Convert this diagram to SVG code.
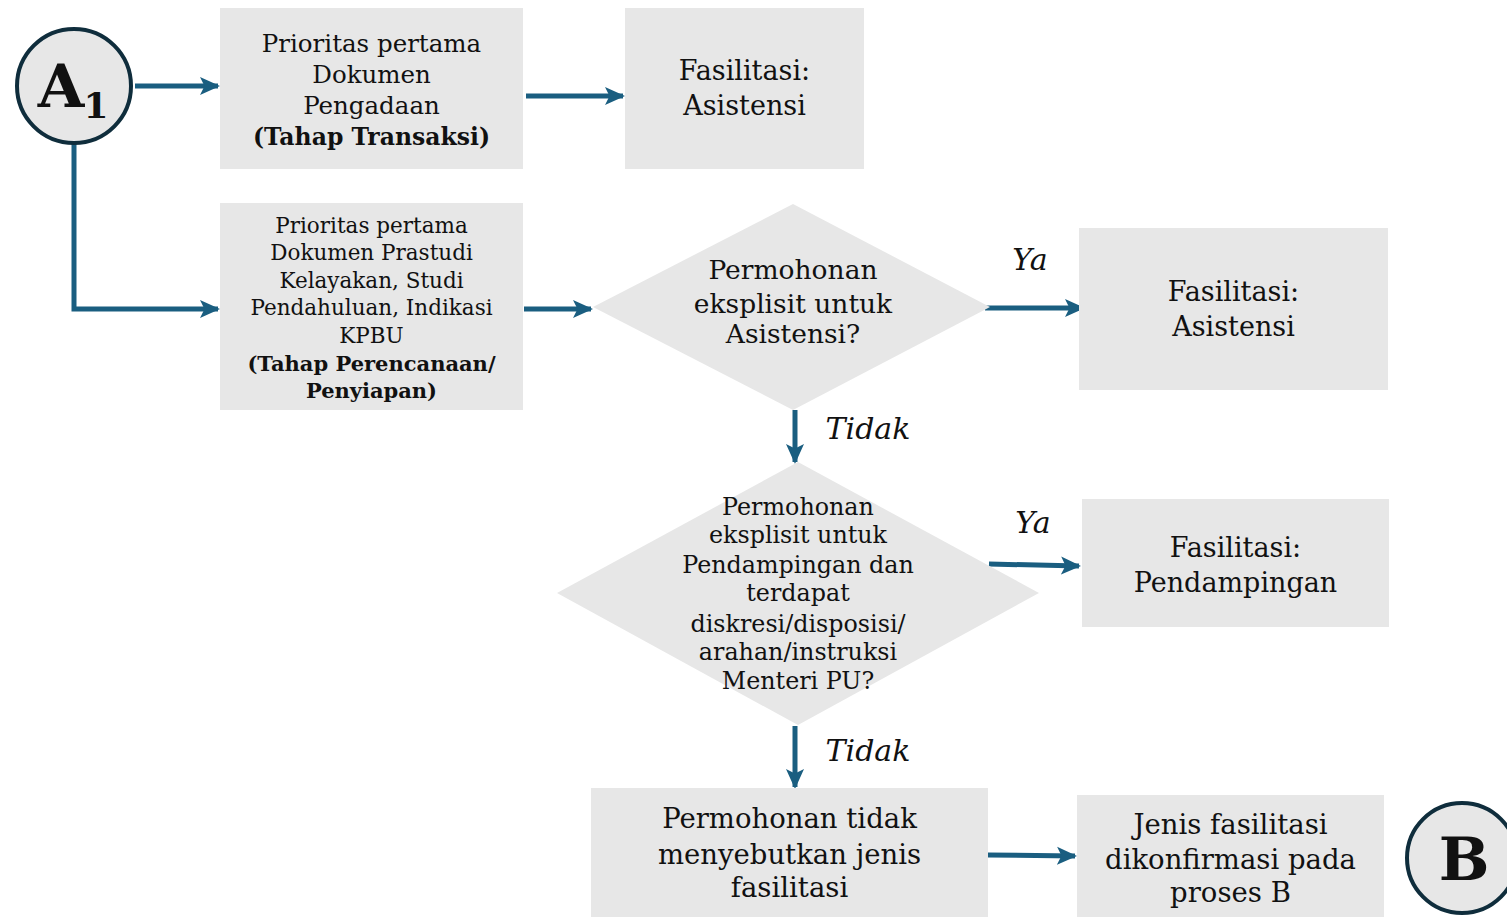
<svg xmlns="http://www.w3.org/2000/svg" width="1507" height="917" viewBox="0 0 1507 917">
<style>
.box{fill:#e7e7e7}
.t{font-family:"DejaVu Serif","Liberation Serif",serif;fill:#111;text-anchor:middle}
.b{font-weight:bold}
.i{font-style:italic}
.c{fill:#e7e7e7;stroke:#0f2d3c;stroke-width:4}
.e{stroke:#1a5e80;stroke-width:5;fill:none;marker-end:url(#ah)}
</style>
<defs>
<marker id="ah" markerWidth="4" markerHeight="4" refX="3.6" refY="2" orient="auto" markerUnits="strokeWidth" viewBox="0 0 4 4">
<path d="M0,0.2 L4,2 L0,3.8 L0.9,2 Z" fill="#1a5e80"/>
</marker>
</defs>
<rect width="1507" height="917" fill="#fff"/>
<g id="connectors">
<line class="e" x1="135" y1="86" x2="218" y2="86"/>
<polyline class="e" points="74,143 74,309 218,309"/>
<line class="e" x1="526" y1="96" x2="623" y2="96"/>
<line class="e" x1="524" y1="309" x2="591" y2="309"/>
<line class="e" x1="985" y1="308" x2="1083" y2="308"/>
<line class="e" x1="795" y1="410" x2="795" y2="462"/>
<line class="e" x1="989" y1="564" x2="1079" y2="566"/>
<line class="e" x1="795" y1="726" x2="795" y2="787"/>
<line class="e" x1="988" y1="855" x2="1075" y2="856"/>
</g>
<g id="A1">
<circle class="c" cx="74" cy="86" r="57"/>
<text class="t b" x="61" y="107" font-size="60">A</text>
<text class="t b" x="96" y="118" font-size="36">1</text>
</g>
<g id="n1">
<rect class="box" x="220" y="8" width="303" height="161"/>
<text class="t" font-size="24.5" x="371.5" y="52">Prioritas pertama</text>
<text class="t" font-size="24.5" x="371.5" y="83">Dokumen</text>
<text class="t" font-size="24.5" x="371.5" y="114">Pengadaan</text>
<text class="t b" font-size="23.5" x="371.5" y="145">(Tahap Transaksi)</text>
</g>
<g id="n2">
<rect class="box" x="625" y="8" width="239" height="161"/>
<text class="t" font-size="27" x="744.5" y="80">Fasilitasi:</text>
<text class="t" font-size="27" x="744.5" y="115">Asistensi</text>
</g>
<g id="n3">
<rect class="box" x="220" y="203" width="303" height="207"/>
<text class="t" font-size="21.5" x="371.5" y="233">Prioritas pertama</text>
<text class="t" font-size="21.5" x="371.5" y="260">Dokumen Prastudi</text>
<text class="t" font-size="21.5" x="371.5" y="288">Kelayakan, Studi</text>
<text class="t" font-size="21.5" x="371.5" y="315">Pendahuluan, Indikasi</text>
<text class="t" font-size="21.5" x="371.5" y="343">KPBU</text>
<text class="t b" font-size="21" x="371.5" y="371">(Tahap Perencanaan/</text>
<text class="t b" font-size="21" x="371.5" y="398">Penyiapan)</text>
</g>
<g id="d1">
<polygon class="box" points="793,204 990,307 793,410 593,307"/>
<text class="t" font-size="26.5" x="793" y="279">Permohonan</text>
<text class="t" font-size="26.5" x="793" y="313">eksplisit untuk</text>
<text class="t" font-size="26.5" x="793" y="343">Asistensi?</text>
</g>
<g id="n4">
<rect class="box" x="1079" y="228" width="309" height="162"/>
<text class="t" font-size="27" x="1233.5" y="301">Fasilitasi:</text>
<text class="t" font-size="27" x="1233.5" y="336">Asistensi</text>
</g>
<g id="d2">
<polygon class="box" points="798,462 1039,593 798,725 557,593"/>
<text class="t" font-size="23.8" x="798" y="515">Permohonan</text>
<text class="t" font-size="23.8" x="798" y="543">eksplisit untuk</text>
<text class="t" font-size="23.8" x="798" y="573">Pendampingan dan</text>
<text class="t" font-size="23.8" x="798" y="601">terdapat</text>
<text class="t" font-size="23.8" x="798" y="632">diskresi/disposisi/</text>
<text class="t" font-size="23.8" x="798" y="660">arahan/instruksi</text>
<text class="t" font-size="23.8" x="798" y="689">Menteri PU?</text>
</g>
<g id="n5">
<rect class="box" x="1082" y="499" width="307" height="128"/>
<text class="t" font-size="27" x="1235.5" y="557">Fasilitasi:</text>
<text class="t" font-size="27" x="1235.5" y="592">Pendampingan</text>
</g>
<g id="n6">
<rect class="box" x="591" y="788" width="397" height="129"/>
<text class="t" font-size="27.5" x="789.5" y="828">Permohonan tidak</text>
<text class="t" font-size="27.5" x="789.5" y="864">menyebutkan jenis</text>
<text class="t" font-size="27.5" x="789.5" y="897">fasilitasi</text>
</g>
<g id="n7">
<rect class="box" x="1077" y="795" width="307" height="122"/>
<text class="t" font-size="27.5" x="1230.5" y="834">Jenis fasilitasi</text>
<text class="t" font-size="27.5" x="1230.5" y="869">dikonfirmasi pada</text>
<text class="t" font-size="27.5" x="1230.5" y="902">proses B</text>
</g>
<g id="B">
<circle class="c" cx="1462" cy="858" r="55"/>
<text class="t b" x="1464" y="880" font-size="60">B</text>
</g>
<g id="labels">
<text class="t i" font-size="30" x="1030" y="270">Ya</text>
<text class="t i" font-size="30" x="868" y="439">Tidak</text>
<text class="t i" font-size="30" x="1033" y="533">Ya</text>
<text class="t i" font-size="30" x="868" y="761">Tidak</text>
</g>
</svg>
